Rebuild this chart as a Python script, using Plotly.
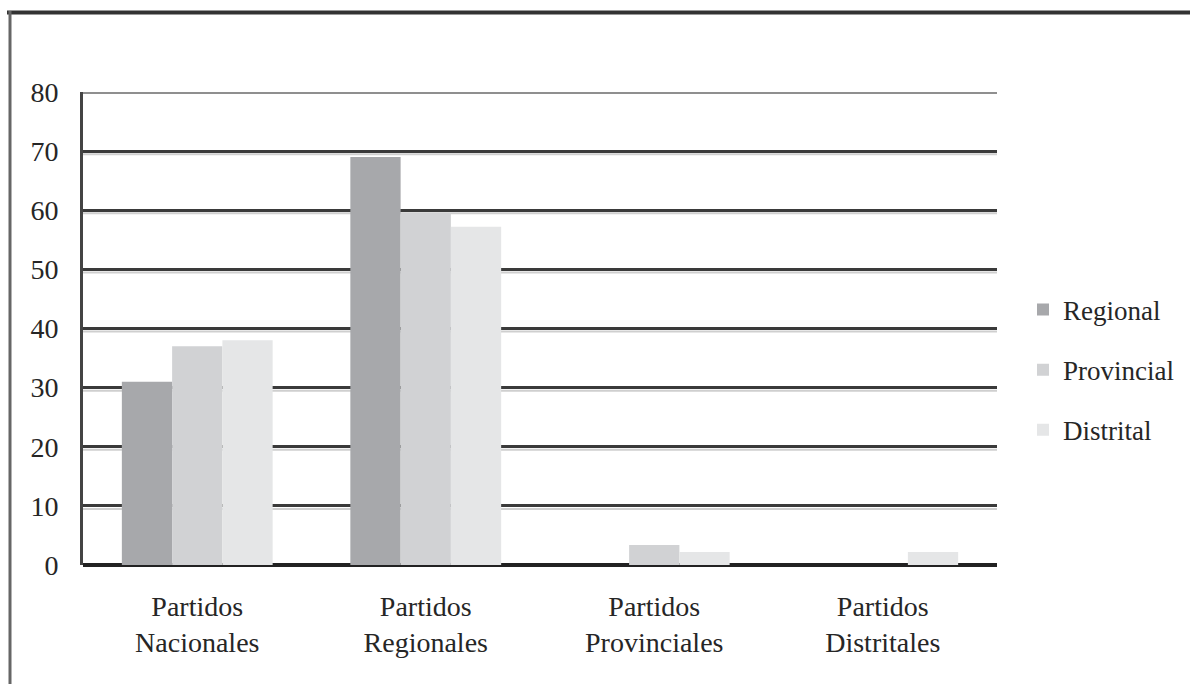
import plotly.graph_objects as go

categories = ["Partidos<br>Nacionales", "Partidos<br>Regionales", "Partidos<br>Provinciales", "Partidos<br>Distritales"]
series_names = ["Regional", "Provincial", "Distrital"]
regional = [31, 69, 0, 0]
provincial = [37, 59.5, 3.4, 0]
distrital = [38, 57.2, 2.2, 2.2]
y_ticks = [0, 10, 20, 30, 40, 50, 60, 70, 80]

colors = ["#a7a8ab", "#d1d2d4", "#e5e6e7"]
FONT = "Liberation Serif"
TXT = "#262626"

W, H = 1190, 684
ML, MR, MT, MB = 83, 193, 92, 119
PW, PH = W - ML - MR, H - MT - MB

fig = go.Figure()
for i, (name, vals) in enumerate(zip(series_names, [regional, provincial, distrital])):
    fig.add_trace(go.Bar(
        x=categories, y=vals, name=name, marker_color=colors[i],
        marker_line_width=0, legendgroup=name,
    ))

def px_x(p):
    return (p - ML) / PW

def px_y(p):
    return (H - MB - p) / PH

shapes = [
    # outer frame top
    dict(type="line", xref="paper", yref="paper", x0=px_x(7), x1=px_x(1200),
         y0=px_y(12.5), y1=px_y(12.5), line=dict(color="#333333", width=4)),
    # outer frame left
    dict(type="line", xref="paper", yref="paper", x0=px_x(10), x1=px_x(10),
         y0=px_y(11), y1=px_y(690), line=dict(color="#666666", width=3)),
    # top gridline lighter
    dict(type="line", xref="paper", yref="y", x0=0, x1=1, y0=80, y1=80,
         line=dict(color="#8f8f8f", width=4), layer="above"),
]
# light shadow lines under the gridlines
for t in y_ticks[1:-1]:
    shapes.append(dict(type="line", xref="paper", yref="y", x0=0, x1=1,
                       ysizemode="pixel", yanchor=t, y0=-3, y1=-3,
                       line=dict(color="#cfcfcf", width=2), layer="below"))

fig.update_layout(
    width=W, height=H,
    margin=dict(l=ML, r=MR, t=MT, b=MB, pad=0, autoexpand=False),
    paper_bgcolor="white", plot_bgcolor="white",
    barmode="group", bargap=0.34, bargroupgap=0,
    font=dict(family=FONT, size=27, color=TXT),
    showlegend=True,
    legend=dict(xref="container", yref="container",
                x=1023 / W, xanchor="left", y=1 - 370 / H, yanchor="middle",
                font=dict(family=FONT, size=27, color=TXT),
                traceorder="grouped", tracegroupgap=22, itemwidth=30,
                bgcolor="rgba(0,0,0,0)"),
    xaxis=dict(showgrid=False, showline=False, ticks="", ticklabelstandoff=22,
               tickfont=dict(family=FONT, size=28, color=TXT)),
    yaxis=dict(range=[0, 80], tickvals=y_ticks, showgrid=True, gridcolor="#3a3a3a",
               gridwidth=3, zeroline=True, zerolinecolor="#222222", zerolinewidth=4,
               showline=True, linecolor="#444444", linewidth=3, ticks="",
               ticklabelstandoff=16, tickfont=dict(family=FONT, size=28, color=TXT)),
    shapes=shapes,
)

fig.write_html("out.html")
